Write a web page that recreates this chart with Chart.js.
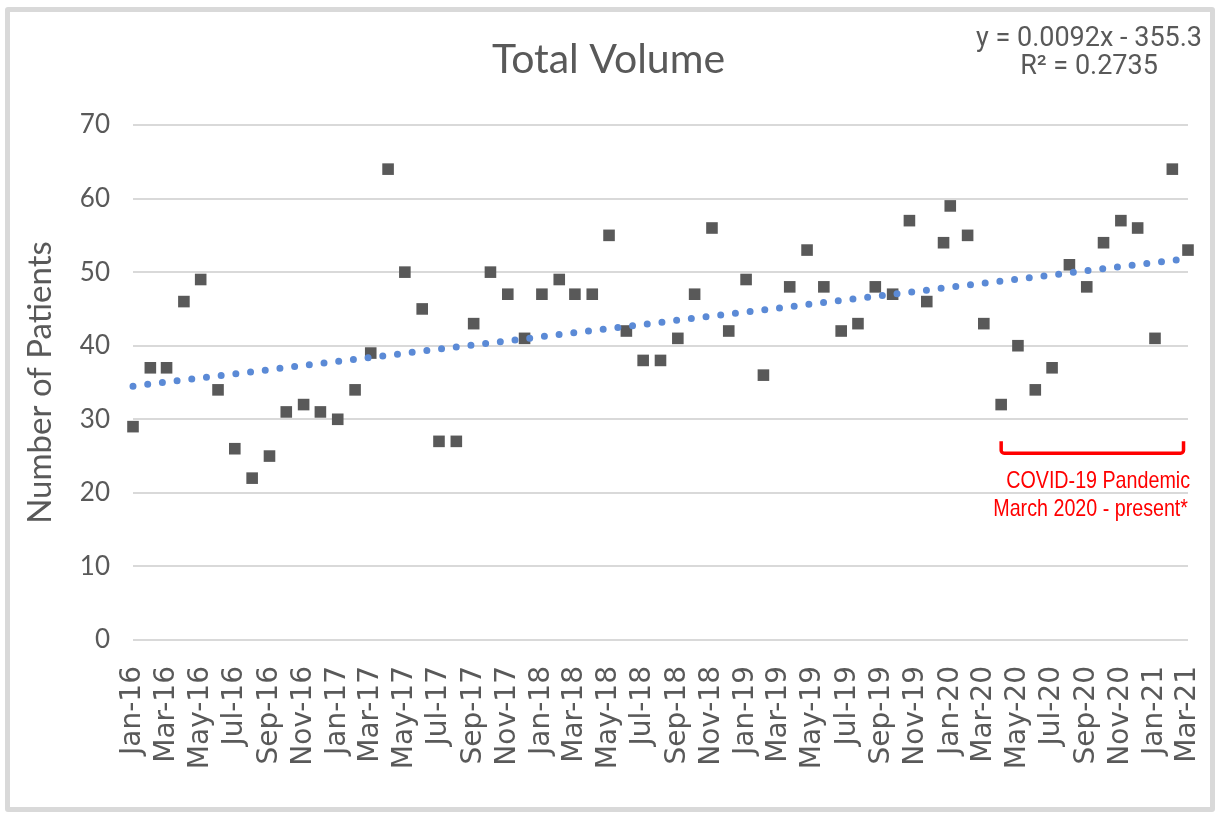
<!DOCTYPE html>
<html>
<head>
<meta charset="utf-8">
<script src="https://cdn.jsdelivr.net/npm/chart.js@4.4.1/dist/chart.umd.min.js"></script>
<style>
  html, body { margin: 0; padding: 0; background: #fff; }
  #frame { position: absolute; left: 5px; top: 7px; width: 1200px; height: 795px; border: 5px solid #d9d9d9; border-radius: 3px; }
  #wrap { position: absolute; left: 0; top: 0; width: 1217px; height: 818px; }
</style>
</head>
<body>
<div id="frame"></div>
<div id="wrap"><canvas id="chart"></canvas></div>
<script>
// monthly visit dates (Mar-Dec 2019 were logged around the 20th)
const visitDates = [
  "2016-01-01", "2016-02-01", "2016-03-01", "2016-04-01", "2016-05-01", "2016-06-01",
  "2016-07-01", "2016-08-01", "2016-09-01", "2016-10-01", "2016-11-01", "2016-12-01",
  "2017-01-01", "2017-02-01", "2017-03-01", "2017-04-01", "2017-05-01", "2017-06-01",
  "2017-07-01", "2017-08-01", "2017-09-01", "2017-10-01", "2017-11-01", "2017-12-01",
  "2018-01-01", "2018-02-01", "2018-03-01", "2018-04-01", "2018-05-01", "2018-06-01",
  "2018-07-01", "2018-08-01", "2018-09-01", "2018-10-01", "2018-11-01", "2018-12-01",
  "2019-01-01", "2019-02-01", "2019-03-20", "2019-04-20", "2019-05-20", "2019-06-20",
  "2019-07-20", "2019-08-20", "2019-09-20", "2019-10-20", "2019-11-20", "2019-12-20",
  "2020-01-01", "2020-02-01", "2020-03-01", "2020-04-01", "2020-05-01", "2020-06-01",
  "2020-07-01", "2020-08-01", "2020-09-01", "2020-10-01", "2020-11-01", "2020-12-01",
  "2021-01-01", "2021-02-01", "2021-03-01"
];
const patients = [
  29, 37, 37, 46, 49, 34, 26, 22, 25, 31, 32, 31,
  30, 34, 39, 64, 50, 45, 27, 27, 43, 50, 47, 41,
  47, 49, 47, 47, 55, 42, 38, 38, 41, 47, 56, 42,
  49, 36, 48, 53, 48, 42, 43, 48, 47, 57, 46, 54,
  59, 55, 43, 32, 40, 34, 37, 51, 48, 54, 57, 56,
  41, 64, 53
];
const tickLabels = [
  "Jan-16", "Mar-16", "May-16", "Jul-16", "Sep-16", "Nov-16",
  "Jan-17", "Mar-17", "May-17", "Jul-17", "Sep-17", "Nov-17",
  "Jan-18", "Mar-18", "May-18", "Jul-18", "Sep-18", "Nov-18",
  "Jan-19", "Mar-19", "May-19", "Jul-19", "Sep-19", "Nov-19",
  "Jan-20", "Mar-20", "May-20", "Jul-20", "Sep-20", "Nov-20",
  "Jan-21", "Mar-21"
];
const yTicks = [0, 10, 20, 30, 40, 50, 60, 70];

// excel trendline (x = excel date serial)
const slope = 0.0092;
const intercept = -355.3;
const rSquared = 0.2735;

const covidRange = ["2020-04-01", "2021-02-21"];

const monthNames = ["Jan", "Feb", "Mar", "Apr", "May", "Jun", "Jul", "Aug", "Sep", "Oct", "Nov", "Dec"];
const toSerial = (iso) => {
  const [yy, mm, dd] = iso.split("-").map(Number);
  return (Date.UTC(yy, mm - 1, dd) - Date.UTC(1899, 11, 30)) / 864e5;
};
const labelToSerial = (lab) => {
  const [mon, yy] = lab.split("-");
  return toSerial(`20${yy}-${String(monthNames.indexOf(mon) + 1).padStart(2, "0")}-01`);
};

const serials = visitDates.map(toSerial);
const points = serials.map((s, i) => ({ x: s, y: patients[i] }));
const xMin = serials[0];
const xMax = serials[serials.length - 1];
const trend = [xMin, xMax].map((s) => ({ x: s, y: slope * s + intercept }));

const grey = "#595959";

// narrow text: squeeze horizontally around the anchor
function narrowText(ctx, text, x, y, sx) {
  ctx.save();
  ctx.translate(x, y);
  ctx.scale(sx, 1);
  ctx.fillText(text, 0, 0);
  ctx.restore();
}

const overlay = {
  id: "overlay",
  afterDraw(chart) {
    const { ctx, chartArea, scales } = chart;
    const { x, y } = scales;
    ctx.save();
    // title
    ctx.fillStyle = grey;
    ctx.textAlign = "center";
    ctx.textBaseline = "middle";
    ctx.font = "41px Lato";
    ctx.fillText("Total Volume", chart.width / 2, 60);
    // trendline equation
    ctx.font = "27px Roboto";
    const ex = chartArea.right - 99;
    ctx.fillText(`y = ${slope}x - ${Math.abs(intercept)}`, ex, 39);
    ctx.fillText(`R\u00B2 = ${rSquared}`, ex, 67);

    // covid bracket
    const x1 = x.getPixelForValue(toSerial(covidRange[0]));
    const x2 = x.getPixelForValue(toSerial(covidRange[1]));
    const yTop = y.getPixelForValue(27);
    const yBot = y.getPixelForValue(25.4);
    ctx.strokeStyle = "#ff0000";
    ctx.lineWidth = 3.5;
    ctx.lineJoin = "round";
    ctx.beginPath();
    ctx.moveTo(x1, yTop);
    ctx.arcTo(x1, yBot, x2, yBot, 3);
    ctx.arcTo(x2, yBot, x2, yTop, 3);
    ctx.lineTo(x2, yTop);
    ctx.stroke();

    ctx.fillStyle = "#ff0000";
    ctx.textAlign = "right";
    ctx.font = '24px "Liberation Sans", Arial, sans-serif';
    narrowText(ctx, "COVID-19 Pandemic", chartArea.right + 2, 481, 0.82);
    narrowText(ctx, "March 2020 - present*", chartArea.right, 509, 0.82);
    ctx.restore();
  }
};

new Chart(document.getElementById("chart"), {
  type: "scatter",
  data: {
    datasets: [
      {
        type: "line",
        data: trend,
        borderColor: "#5b8ad6",
        borderWidth: 7,
        borderDash: [0, 14.8],
        borderCapStyle: "round",
        pointRadius: 0,
        fill: false,
        order: 0,
        clip: false
      },
      {
        data: points,
        pointStyle: "rect",
        pointRadius: 8.2,
        backgroundColor: grey,
        borderColor: grey,
        borderWidth: 0,
        order: 1,
        clip: false
      }
    ]
  },
  options: {
    responsive: true,
    maintainAspectRatio: false,
    animation: false,
    layout: { padding: { top: 125, left: 10, right: 29, bottom: 10 } },
    plugins: { legend: { display: false }, tooltip: { enabled: false }, title: { display: false } },
    scales: {
      x: {
        type: "linear",
        min: labelToSerial(tickLabels[0]),
        max: labelToSerial(tickLabels[tickLabels.length - 1]),
        afterBuildTicks: (s) => {
          s.ticks = tickLabels.map((l) => ({ value: labelToSerial(l) }));
        },
        afterFit: (s) => {
          s.height = 168;
          s.paddingLeft = 0;
          s.paddingRight = 0;
        },
        grid: { display: false, drawTicks: false },
        border: { display: false },
        ticks: {
          autoSkip: false,
          minRotation: 90,
          maxRotation: 90,
          padding: 26,
          color: grey,
          font: { family: "DejaVu Sans", size: 28 },
          callback: (v, i) => tickLabels[i]
        }
      },
      y: {
        min: yTicks[0],
        max: yTicks[yTicks.length - 1],
        afterBuildTicks: (s) => { s.ticks = yTicks.map((v) => ({ value: v })); },
        afterFit: (s) => { s.width = 123; },
        grid: { color: "#d9d9d9", lineWidth: 2, drawTicks: false },
        border: { display: false },
        ticks: { padding: 23, color: grey, font: { family: "Lato", size: 26 } },
        title: {
          display: true,
          text: "Number of Patients",
          color: grey,
          font: { family: "Lato", size: 33 },
          padding: { top: 11, bottom: 0 }
        }
      }
    }
  },
  plugins: [overlay]
});
</script>
</body>
</html>
